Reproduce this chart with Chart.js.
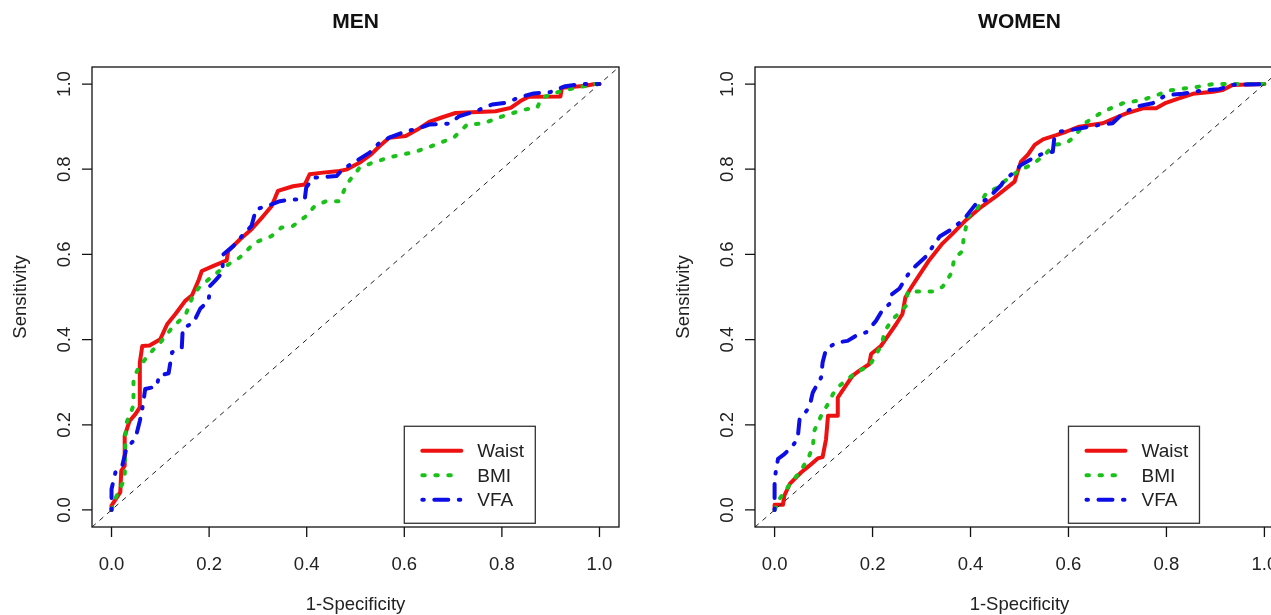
<!DOCTYPE html>
<html>
<head>
<meta charset="utf-8">
<script src="https://cdn.jsdelivr.net/npm/chart.js@4.4.1/dist/chart.umd.min.js"></script>
<style>
  html, body { margin: 0; padding: 0; background: #fff; overflow: hidden; }
  #wrap { position: relative; width: 1271px; height: 615px; overflow: hidden; }
  canvas { position: absolute; top: 0; }
  #men { left: 0; }
  #women { left: 640px; }
</style>
</head>
<body>
<div id="wrap">
  <canvas id="men" width="640" height="615"></canvas>
  <canvas id="women" width="700" height="615"></canvas>
</div>
<script>
// axis ticks (shared by both panels)
const tickValues = [0, 0.2, 0.4, 0.6, 0.8, 1.0];
const tickLabels = ['0.0', '0.2', '0.4', '0.6', '0.8', '1.0'];
const seriesNames = ['Waist', 'BMI', 'VFA'];

// MEN: 1-specificity (x) and sensitivity (y)
const menWaistX = [0, 0, 0.018, 0.02, 0.027, 0.027, 0.037, 0.049, 0.058, 0.058, 0.063, 0.078, 0.1, 0.114, 0.131, 0.151, 0.165, 0.178, 0.185, 0.209, 0.236, 0.239, 0.263, 0.287, 0.311, 0.328, 0.341, 0.372, 0.396, 0.406, 0.433, 0.467, 0.481, 0.508, 0.532, 0.549, 0.569, 0.603, 0.627, 0.651, 0.678, 0.705, 0.739, 0.787, 0.818, 0.838, 0.855, 0.92, 0.923, 0.971, 0.991, 1];
const menWaistY = [0, 0.01, 0.042, 0.092, 0.104, 0.174, 0.209, 0.225, 0.241, 0.346, 0.385, 0.386, 0.401, 0.436, 0.46, 0.491, 0.504, 0.538, 0.561, 0.573, 0.586, 0.608, 0.635, 0.659, 0.69, 0.713, 0.749, 0.76, 0.764, 0.788, 0.792, 0.796, 0.799, 0.815, 0.835, 0.854, 0.874, 0.878, 0.893, 0.911, 0.922, 0.932, 0.934, 0.936, 0.944, 0.96, 0.97, 0.971, 0.991, 0.996, 1.0, 1];

const menBmiX = [0, 0.008, 0.027, 0.029, 0.045, 0.045, 0.058, 0.069, 0.086, 0.1, 0.127, 0.151, 0.168, 0.182, 0.212, 0.229, 0.263, 0.294, 0.328, 0.348, 0.372, 0.399, 0.416, 0.44, 0.466, 0.484, 0.508, 0.532, 0.573, 0.62, 0.665, 0.702, 0.729, 0.76, 0.801, 0.845, 0.872, 0.882, 0.92, 0.943, 0.991, 1];
const menBmiY = [0, 0.027, 0.073, 0.2, 0.245, 0.311, 0.338, 0.354, 0.377, 0.393, 0.432, 0.456, 0.506, 0.526, 0.553, 0.569, 0.593, 0.628, 0.643, 0.663, 0.667, 0.69, 0.713, 0.725, 0.725, 0.768, 0.803, 0.814, 0.829, 0.84, 0.858, 0.875, 0.905, 0.907, 0.924, 0.94, 0.944, 0.968, 0.983, 0.989, 1.0, 1];

const menVfaX = [0, 0, 0.008, 0.022, 0.031, 0.045, 0.052, 0.058, 0.063, 0.066, 0.069, 0.093, 0.097, 0.117, 0.124, 0.144, 0.146, 0.168, 0.182, 0.199, 0.202, 0.212, 0.227, 0.229, 0.25, 0.267, 0.287, 0.296, 0.318, 0.345, 0.372, 0.396, 0.399, 0.413, 0.461, 0.474, 0.501, 0.529, 0.549, 0.569, 0.603, 0.627, 0.651, 0.692, 0.712, 0.746, 0.78, 0.807, 0.835, 0.865, 0.899, 0.93, 0.964, 1];
const menVfaY = [0, 0.049, 0.088, 0.104, 0.147, 0.162, 0.182, 0.209, 0.237, 0.26, 0.284, 0.29, 0.315, 0.321, 0.37, 0.381, 0.426, 0.44, 0.473, 0.491, 0.526, 0.538, 0.557, 0.6, 0.62, 0.643, 0.667, 0.706, 0.713, 0.725, 0.729, 0.729, 0.757, 0.78, 0.784, 0.8, 0.819, 0.839, 0.862, 0.874, 0.889, 0.895, 0.905, 0.907, 0.924, 0.936, 0.952, 0.956, 0.968, 0.978, 0.981, 0.995, 1.0, 1];

// WOMEN
const womenWaistX = [0, 0, 0.017, 0.02, 0.031, 0.041, 0.054, 0.071, 0.088, 0.098, 0.105, 0.109, 0.129, 0.129, 0.143, 0.159, 0.173, 0.193, 0.197, 0.217, 0.234, 0.248, 0.261, 0.267, 0.276, 0.289, 0.316, 0.343, 0.361, 0.391, 0.418, 0.452, 0.49, 0.495, 0.503, 0.517, 0.531, 0.548, 0.575, 0.595, 0.622, 0.67, 0.718, 0.752, 0.779, 0.799, 0.827, 0.854, 0.895, 0.915, 0.935, 1];
const womenWaistY = [0, 0.012, 0.012, 0.034, 0.061, 0.073, 0.088, 0.104, 0.121, 0.124, 0.166, 0.221, 0.221, 0.264, 0.288, 0.315, 0.327, 0.342, 0.366, 0.385, 0.413, 0.436, 0.46, 0.499, 0.517, 0.54, 0.587, 0.626, 0.646, 0.681, 0.708, 0.736, 0.771, 0.79, 0.818, 0.834, 0.857, 0.87, 0.88, 0.888, 0.9, 0.908, 0.931, 0.943, 0.943, 0.956, 0.967, 0.977, 0.982, 0.986, 0.998, 1];

const womenBmiX = [0, 0.01, 0.024, 0.037, 0.051, 0.068, 0.078, 0.081, 0.095, 0.109, 0.119, 0.132, 0.149, 0.166, 0.193, 0.204, 0.217, 0.227, 0.241, 0.255, 0.268, 0.272, 0.296, 0.323, 0.343, 0.361, 0.367, 0.383, 0.386, 0.395, 0.412, 0.432, 0.452, 0.473, 0.5, 0.524, 0.548, 0.571, 0.595, 0.609, 0.636, 0.67, 0.711, 0.752, 0.776, 0.806, 0.867, 0.895, 1];
const womenBmiY = [0, 0.026, 0.049, 0.069, 0.088, 0.12, 0.147, 0.186, 0.221, 0.249, 0.272, 0.291, 0.307, 0.323, 0.338, 0.358, 0.385, 0.424, 0.448, 0.463, 0.479, 0.513, 0.513, 0.513, 0.524, 0.556, 0.591, 0.607, 0.638, 0.689, 0.704, 0.744, 0.755, 0.775, 0.798, 0.81, 0.83, 0.857, 0.861, 0.873, 0.91, 0.935, 0.955, 0.963, 0.972, 0.985, 0.994, 1.0, 1];

const womenVfaX = [0, 0, 0.007, 0.02, 0.034, 0.047, 0.051, 0.071, 0.078, 0.095, 0.098, 0.105, 0.126, 0.149, 0.166, 0.187, 0.207, 0.221, 0.234, 0.238, 0.255, 0.272, 0.286, 0.309, 0.337, 0.364, 0.388, 0.412, 0.432, 0.463, 0.469, 0.486, 0.503, 0.531, 0.548, 0.568, 0.571, 0.582, 0.609, 0.663, 0.69, 0.711, 0.738, 0.772, 0.799, 0.833, 0.874, 0.908, 0.935, 1];
const womenVfaY = [0, 0.073, 0.12, 0.131, 0.147, 0.166, 0.213, 0.241, 0.276, 0.311, 0.346, 0.377, 0.393, 0.397, 0.409, 0.417, 0.444, 0.471, 0.483, 0.505, 0.52, 0.552, 0.571, 0.595, 0.642, 0.661, 0.685, 0.72, 0.728, 0.763, 0.775, 0.79, 0.81, 0.828, 0.837, 0.841, 0.873, 0.888, 0.893, 0.904, 0.908, 0.931, 0.947, 0.955, 0.974, 0.977, 0.985, 0.988, 0.998, 1];

const FONT = '"Liberation Sans", Arial, Helvetica, sans-serif';

function toPoints(xs, ys) {
    return xs.map((x, i) => ({ x: x, y: ys[i] }));
}

// R-like frame: box, ticks, labels, titles, reference line and legend
const rFrame = {
    id: 'rFrame',
    afterDatasetsDraw(chart) {
        const { ctx, chartArea: a, scales: { x, y } } = chart;
        ctx.save();
        ctx.beginPath();
        ctx.rect(a.left, a.top, a.right - a.left, a.bottom - a.top);
        ctx.clip();
        ctx.strokeStyle = '#222';
        ctx.lineWidth = 1;
        ctx.setLineDash([5, 5]);
        ctx.beginPath();
        ctx.moveTo(x.getPixelForValue(x.min), y.getPixelForValue(y.min));
        ctx.lineTo(x.getPixelForValue(x.max), y.getPixelForValue(y.max));
        ctx.stroke();
        ctx.restore();
    },
    afterDraw(chart, args, opts) {
        const { ctx, chartArea: a, scales: { x, y } } = chart;
        const cx = (a.left + a.right) / 2;
        const cy = (a.top + a.bottom) / 2;
        ctx.save();
        ctx.strokeStyle = '#111';
        ctx.fillStyle = '#111';
        ctx.lineWidth = 1.3;
        ctx.setLineDash([]);
        ctx.strokeRect(a.left, a.top, a.right - a.left, a.bottom - a.top);

        // ticks
        ctx.beginPath();
        tickValues.forEach(v => {
            const px = x.getPixelForValue(v);
            ctx.moveTo(px, a.bottom);
            ctx.lineTo(px, a.bottom + 10);
            const py = y.getPixelForValue(v);
            ctx.moveTo(a.left, py);
            ctx.lineTo(a.left - 10, py);
        });
        ctx.stroke();

        ctx.font = '18.5px ' + FONT;
        ctx.fillStyle = '#222';
        ctx.textAlign = 'center';
        ctx.textBaseline = 'alphabetic';
        tickValues.forEach((v, i) => {
            ctx.fillText(tickLabels[i], x.getPixelForValue(v), a.bottom + 43);
            ctx.save();
            ctx.translate(a.left - 22.5, y.getPixelForValue(v));
            ctx.rotate(-Math.PI / 2);
            ctx.fillText(tickLabels[i], 0, 0);
            ctx.restore();
        });

        // axis titles
        ctx.fillText('1-Specificity', cx, a.bottom + 83);
        ctx.save();
        ctx.translate(a.left - 66.5, cy);
        ctx.rotate(-Math.PI / 2);
        ctx.fillText('Sensitivity', 0, 0);
        ctx.restore();

        // main title
        ctx.fillStyle = '#111';
        ctx.font = 'bold 21px ' + FONT;
        ctx.textBaseline = 'middle';
        ctx.fillText(opts.title, cx, a.top - 45);

        // legend at (0.6, 0.2) as top-left corner
        const lx = x.getPixelForValue(opts.legendAt[0]);
        const ly = y.getPixelForValue(opts.legendAt[1]) + 1.5;
        ctx.fillStyle = '#fff';
        ctx.fillRect(lx, ly, 131, 97);
        ctx.strokeStyle = '#333';
        ctx.lineWidth = 1.3;
        ctx.strokeRect(lx, ly, 131, 97);
        ctx.font = '19px ' + FONT;
        ctx.textAlign = 'left';
        chart.data.datasets.forEach((ds, i) => {
            const rowY = ly + 24.5 + i * 24.5;
            ctx.save();
            ctx.strokeStyle = ds.borderColor;
            ctx.lineWidth = ds.borderWidth;
            ctx.lineCap = 'round';
            ctx.setLineDash(ds.borderDash || []);
            ctx.beginPath();
            ctx.moveTo(lx + 18, rowY);
            ctx.lineTo(lx + 57, rowY);
            ctx.stroke();
            ctx.restore();
            ctx.fillStyle = '#222';
            ctx.textBaseline = 'middle';
            ctx.fillText(ds.label, lx + 73, rowY + 1);
        });
        ctx.restore();
    }
};

function makeRoc(canvasId, title, series, padding) {
    const styles = [
        { color: '#ee1111', dash: [], order: 3 },
        { color: '#19c119', dash: [2.5, 10.5], order: 2 },
        { color: '#0d0de8', dash: [1.5, 10.5, 14, 10.5], order: 1 }
    ];
    const datasets = series.map((s, i) => ({
        label: seriesNames[i],
        data: toPoints(s[0], s[1]),
        showLine: true,
        borderColor: styles[i].color,
        borderWidth: 4,
        borderDash: styles[i].dash,
        borderCapStyle: 'round',
        borderJoinStyle: 'round',
        pointRadius: 0,
        tension: 0,
        order: styles[i].order
    }));

    new Chart(document.getElementById(canvasId), {
        type: 'scatter',
        data: { datasets: datasets },
        options: {
            responsive: false,
            animation: false,
            layout: { padding: padding },
            scales: {
                x: { type: 'linear', min: -0.04, max: 1.04, display: false },
                y: { type: 'linear', min: -0.04, max: 1.04, display: false }
            },
            plugins: {
                legend: { display: false },
                tooltip: { enabled: false },
                rFrame: { title: title, legendAt: [0.6, 0.2] }
            }
        },
        plugins: [rFrame]
    });
}

makeRoc('men', 'MEN', [[menWaistX, menWaistY], [menBmiX, menBmiY], [menVfaX, menVfaY]],
    { left: 92, right: 21, top: 67, bottom: 88 });
makeRoc('women', 'WOMEN', [[womenWaistX, womenWaistY], [womenBmiX, womenBmiY], [womenVfaX, womenVfaY]],
    { left: 115, right: 56, top: 67, bottom: 88 });
</script>
</body>
</html>
